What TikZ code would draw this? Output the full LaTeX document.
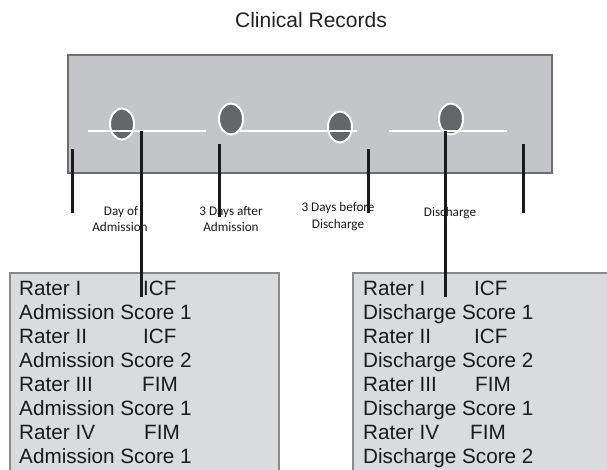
\documentclass[tikz,border=0pt]{standalone}
\usepackage{fontspec}
\setmainfont{Liberation Sans}
\newfontfamily\labfont{Carlito}
\usetikzlibrary{shapes.geometric}
\definecolor{panelgray}{HTML}{C4C5C9}
\definecolor{panelborder}{HTML}{6E6E70}
\definecolor{boxgray}{HTML}{DADBDD}
\definecolor{boxborder}{HTML}{8A8A8C}
\definecolor{dotgray}{HTML}{65666A}
\definecolor{inkblack}{HTML}{1A1A1A}
\definecolor{textdark}{HTML}{222222}
\begin{document}
\begin{tikzpicture}[x=1pt,y=-1pt,
  panel/.style={fill=panelgray,draw=panelborder,line width=2.4pt},
  scorebox/.style={fill=boxgray,draw=boxborder,line width=2.6pt},
  dot/.style={ellipse,minimum width=24pt,minimum height=31pt,inner sep=0pt,fill=dotgray,draw=white,line width=2pt},
  timeline/.style={draw=white,line width=2.5pt},
  tick/.style={draw=inkblack,line width=3pt},
  lab/.style={font=\labfont\fontsize{13.2}{16}\selectfont,anchor=base,inner sep=0pt,text=inkblack},
  row/.style={font=\fontsize{20.7}{24}\selectfont,anchor=base west,inner sep=0pt,text=inkblack},
  titletext/.style={font=\fontsize{21}{24}\selectfont,anchor=base,inner sep=0pt,text=textdark}]
\useasboundingbox (0,0) rectangle (607,469);
\clip (0,0) rectangle (607,469);

% title
\node[titletext] (title) at (311,27) {Clinical Records};

% clinical records panel
\draw[panel] (68,55) rectangle (552,173);

% time points
\node[dot] (c1) at (122,124) {};
\node[dot] (c2) at (231,119) {};
\node[dot] (c3) at (340,127) {};
\node[dot] (c4) at (451,119) {};

% white timeline segments
\coordinate (w1a) at (88,131);  \coordinate (w1b) at (206,131);
\coordinate (w2a) at (238,131); \coordinate (w2b) at (357,131);
\coordinate (w3a) at (389,131); \coordinate (w3b) at (507,131);
\draw[timeline] (w1a) -- (w1b);
\draw[timeline] (w2a) -- (w2b);
\draw[timeline] (w3a) -- (w3b);

% score boxes
\draw[scorebox] (10,273) rectangle (279,480);
\draw[scorebox] (353,273) rectangle (620,480);

% time labels
\node[lab] (l1a) at (121,215) {Day of};
\node[lab] (l1b) at (120,231.5) {Admission};
\node[lab] (l2a) at (231,215) {3 Days after};
\node[lab] (l2b) at (231,231.5) {Admission};
\node[lab] (l3a) at (338,211.5) {3 Days before};
\node[lab] (l3b) at (338,228) {Discharge};
\node[lab] (l4a) at (450,216) {Discharge};

% left box rows
\node[row] (a1) at (19,295) {Rater I};
\node[row] (a1r) at (143,295) {ICF};
\node[row] (a2) at (19,319) {Admission Score 1};
\node[row] (a3) at (19,343.3) {Rater II};
\node[row] (a3r) at (143,343.3) {ICF};
\node[row] (a4) at (19,367.4) {Admission Score 2};
\node[row] (a5) at (19,391.5) {Rater III};
\node[row] (a5r) at (142,391.5) {FIM};
\node[row] (a6) at (19,415.6) {Admission Score 1};
\node[row] (a7) at (19,439.7) {Rater IV};
\node[row] (a7r) at (144,439.7) {FIM};
\node[row] (a8) at (19,463.8) {Admission Score 1};

% right box rows
\node[row] (b1) at (363,295) {Rater I};
\node[row] (b1r) at (474,295) {ICF};
\node[row] (b2) at (363,319) {Discharge Score 1};
\node[row] (b3) at (363,343.3) {Rater II};
\node[row] (b3r) at (474,343.3) {ICF};
\node[row] (b4) at (363,367.4) {Discharge Score 2};
\node[row] (b5) at (363,391.5) {Rater III};
\node[row] (b5r) at (475,391.5) {FIM};
\node[row] (b6) at (363,415.6) {Discharge Score 1};
\node[row] (b7) at (363,439.7) {Rater IV};
\node[row] (b7r) at (470,439.7) {FIM};
\node[row] (b8) at (363,463.8) {Discharge Score 2};

% black ticks
\coordinate (t1a) at (72,149);  \coordinate (t1b) at (72,213);
\coordinate (t2a) at (219,144); \coordinate (t2b) at (219,217);
\coordinate (t3a) at (368,149); \coordinate (t3b) at (368,213);
\coordinate (t5a) at (523,144); \coordinate (t5b) at (523,213);
\draw[tick] (t1a) -- (t1b);
\draw[tick] (t2a) -- (t2b);
\draw[tick] (t3a) -- (t3b);
\draw[tick] (t5a) -- (t5b);

% long connectors into boxes
\coordinate (p1a) at (141,131); \coordinate (p1b) at (141,297);
\coordinate (p2a) at (445,131); \coordinate (p2b) at (445,297);
\draw[tick] (p1a) -- (p1b);
\draw[tick] (p2a) -- (p2b);
\end{tikzpicture}
\end{document}
